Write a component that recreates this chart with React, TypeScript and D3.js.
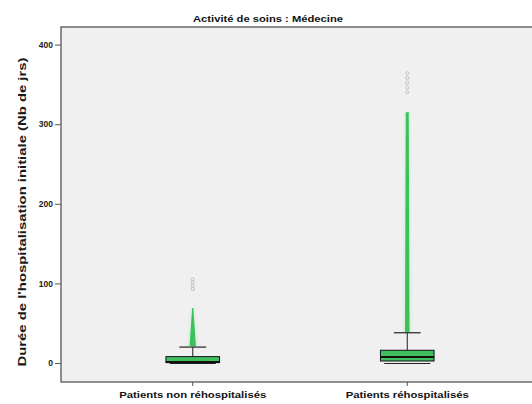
import React from 'react';
import * as d3 from 'd3';

const categories = ['Patients non réhospitalisés', 'Patients réhospitalisés'];
const lowerWhisker = [0, 0];
const q1 = [0.5, 2.5];
const median = [1.2, 7.5];
const q3 = [8, 16];
const upperWhisker = [20, 38];
// dense run of outliers (merged into a column in the picture)
const outlierFrom = [21, 39];
const outlierTo = [69, 315];
// sparse extreme values above the column
const extremes = [[93, 97, 101, 105], [340, 346, 352, 358, 364]];
const yTicks = [0, 100, 200, 300, 400];

const W = 532, H = 404;
const FONT = '"Liberation Sans", Arial, sans-serif';

export default function App() {
  const ref = React.useRef<SVGSVGElement>(null);

  React.useEffect(() => {
    if (!ref.current) return;
    const svg = d3.select(ref.current);
    svg.selectAll('*').remove();

    const left = 61, top = 27, bottom = 382;
    const y = d3.scaleLinear().domain([0, 400]).range([363, 44.6]);
    const x = d3.scaleBand<string>().domain(categories).range([85.5, 514.5]).padding(0);
    const bw = x.bandwidth() * 0.25;

    // plot background + frame
    svg.append('rect').attr('x', left).attr('y', top).attr('width', W - left + 2).attr('height', bottom - top)
      .attr('fill', '#f0f0f0').attr('stroke', '#555').attr('stroke-width', 1.3);

    // y axis
    const ya = svg.append('g').attr('transform', `translate(${left},0)`)
      .call(d3.axisLeft(y).tickValues(yTicks).tickSize(6).tickPadding(2).tickFormat(d3.format('d')));
    ya.select('.domain').remove();
    ya.selectAll('line').attr('stroke', '#555');
    ya.selectAll('text').attr('font-family', FONT).attr('font-weight', 'bold').attr('font-size', 8.5).attr('fill', '#222');

    // x axis ticks
    const xa = svg.append('g').attr('transform', `translate(0,${bottom})`)
      .call(d3.axisBottom(x).tickSize(4).tickFormat(() => ''));
    xa.select('.domain').remove();
    xa.selectAll('line').attr('stroke', '#555');

    categories.forEach((c, i) => {
      const cx = x(c)! + x.bandwidth() / 2;
      const g = svg.append('g');

      // outlier column, tapered
      const yb = y(outlierFrom[i]), yt = y(outlierTo[i]);
      const wb = i === 0 ? 3.2 : 2.3, wt = i === 0 ? 0.6 : 1.5;
      const poly = (wB: number, wT: number) =>
        `M${cx - wB},${yb} L${cx - wT},${yt} L${cx + wT},${yt} L${cx + wB},${yb} Z`;
      g.append('path').attr('d', poly(wb + 3, wt + 2)).attr('fill', '#dcf1e1').attr('opacity', 0.8);
      g.append('path').attr('d', poly(wb, wt)).attr('fill', '#3cc05c');

      extremes[i].forEach(v => {
        g.append('circle').attr('cx', cx).attr('cy', y(v)).attr('r', 1.6)
          .attr('fill', 'none').attr('stroke', '#b5c2b9').attr('stroke-width', 0.9);
      });

      // whiskers
      g.append('line').attr('x1', cx).attr('x2', cx).attr('y1', y(upperWhisker[i])).attr('y2', y(q3[i]))
        .attr('stroke', '#222').attr('stroke-width', 1);
      g.append('line').attr('x1', cx - bw / 4).attr('x2', cx + bw / 4)
        .attr('y1', y(upperWhisker[i])).attr('y2', y(upperWhisker[i])).attr('stroke', '#222').attr('stroke-width', 1.2);
      g.append('line').attr('x1', cx - bw * 0.43).attr('x2', cx + bw * 0.43)
        .attr('y1', y(lowerWhisker[i]) + 0.5).attr('y2', y(lowerWhisker[i]) + 0.5).attr('stroke', '#222').attr('stroke-width', 1.2);

      // box
      g.append('rect').attr('x', cx - bw / 2).attr('width', bw)
        .attr('y', y(q3[i])).attr('height', y(q1[i]) - y(q3[i]))
        .attr('fill', '#3fbf5e').attr('stroke', '#111').attr('stroke-width', 1);
      g.append('line').attr('x1', cx - bw / 2).attr('x2', cx + bw / 2)
        .attr('y1', y(median[i])).attr('y2', y(median[i])).attr('stroke', '#111').attr('stroke-width', 2);

      // category label
      svg.append('text').attr('x', cx).attr('y', 398).attr('text-anchor', 'middle')
        .attr('font-family', FONT).attr('font-weight', 'bold').attr('font-size', 9).attr('fill', '#111')
        .attr('textLength', i === 0 ? 147 : 123).attr('lengthAdjust', 'spacingAndGlyphs')
        .text(c);
    });

    // title
    svg.append('text').attr('x', 268).attr('y', 22).attr('text-anchor', 'middle')
      .attr('font-family', FONT).attr('font-weight', 'bold').attr('font-size', 9).attr('fill', '#111')
      .attr('textLength', 150).attr('lengthAdjust', 'spacingAndGlyphs')
      .text('Activité de soins : Médecine');

    // y label
    svg.append('text').attr('transform', `translate(26,212) rotate(-90)`).attr('text-anchor', 'middle')
      .attr('font-family', FONT).attr('font-weight', 'bold').attr('font-size', 10.5).attr('fill', '#1a1a1a')
      .attr('textLength', 309).attr('lengthAdjust', 'spacingAndGlyphs')
      .text("Durée de l'hospitalisation initiale (Nb de jrs)");
  }, []);

  return (
    <div style={{ position: 'fixed', left: 0, top: 0, background: '#fff' }}>
      <svg ref={ref} width={W} height={H} style={{ display: 'block' }} />
    </div>
  );
}
